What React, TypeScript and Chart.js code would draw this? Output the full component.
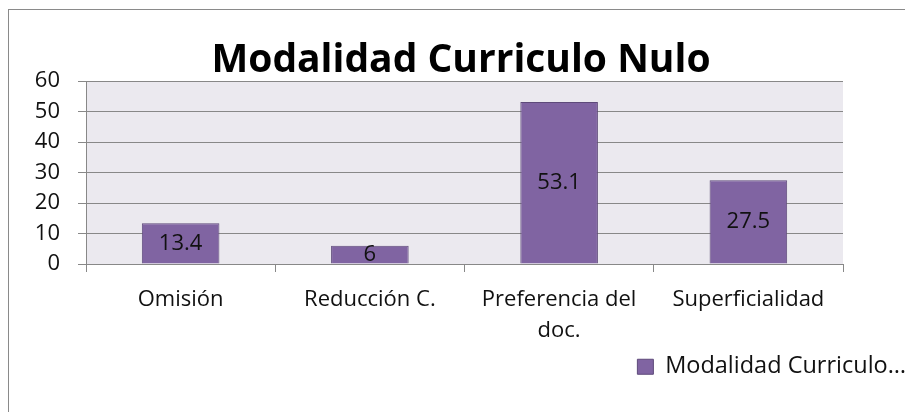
import React, { useEffect, useRef } from "react";
import { Chart, registerables } from "chart.js";

Chart.register(...registerables);

const title = "Modalidad Curriculo Nulo";
const categories: (string | string[])[] = ["Omisión", "Reducción C.", ["Preferencia del", "doc."], "Superficialidad"];
const values = [13.4, 6, 53.1, 27.5];
const seriesLabel = "Modalidad Curriculo…";
const yMin = 0;
const yMax = 60;
const yStep = 10;

const FONT = "'Open Sans', Lato, sans-serif";
const FS = 22;

const bgPlugin = {
  id: "plotBg",
  beforeDraw(chart: any) {
    const { ctx, chartArea } = chart;
    ctx.save();
    ctx.fillStyle = "#EBE9EF";
    ctx.fillRect(chartArea.left, chartArea.top, chartArea.right - chartArea.left, chartArea.bottom - chartArea.top);
    ctx.restore();
  },
};

const labelPlugin = {
  id: "barLabels",
  afterDatasetsDraw(chart: any) {
    const { ctx } = chart;
    const meta = chart.getDatasetMeta(0);
    ctx.save();
    ctx.font = `${FS}px ${FONT}`;
    ctx.fillStyle = "#111";
    ctx.textAlign = "center";
    ctx.textBaseline = "middle";
    meta.data.forEach((bar: any, i: number) => {
      const y = (bar.y + bar.base) / 2;
      ctx.fillText(String(values[i]), bar.x, y);
    });
    ctx.restore();
  },
};

export default function App() {
  const ref = useRef<HTMLCanvasElement>(null);
  useEffect(() => {
    if (!ref.current) return;
    const chart = new Chart(ref.current, {
      type: "bar",
      data: {
        labels: categories,
        datasets: [
          {
            label: seriesLabel,
            data: values,
            backgroundColor: "#8064A2",
            borderColor: "#5E4A7A",
            borderWidth: 1,
            categoryPercentage: 1,
            barPercentage: 0.41,
          },
        ],
      },
      options: {
        animation: false,
        responsive: false,
        maintainAspectRatio: false,
        layout: { padding: { left: 0, right: 0, top: 0, bottom: 24.5 } },
        plugins: {
          title: {
            display: true,
            text: title,
            color: "#000",
            font: { family: FONT, size: 39, weight: "bold", lineHeight: 1 },
            padding: { top: 31, bottom: 1 },
          },
          legend: {
            display: true,
            position: "bottom",
            align: "end",
            labels: {
              color: "#111",
              font: { family: FONT, size: 23.5 },
              boxWidth: 16,
              boxHeight: 15,
              padding: 7,
            },
          },
          tooltip: { enabled: false },
        },
        scales: {
          x: {
            grid: {
              display: true,
              drawOnChartArea: false,
              drawTicks: true,
              tickLength: 8,
              color: "#888",
              offset: true,
            },
            border: { display: true, color: "#888" },
            ticks: {
              color: "#111",
              font: { family: FONT, size: FS, lineHeight: 31 / FS },
              padding: 12.5,
              maxRotation: 0,
              autoSkip: false,
            },
            afterFit: (s: any) => {
              s.height = 84;
            },
          },
          y: {
            min: yMin,
            max: yMax,
            grid: { color: "#888", tickLength: 8, drawTicks: true },
            border: { display: true, color: "#888" },
            ticks: {
              stepSize: yStep,
              color: "#111",
              font: { family: FONT, size: FS },
              padding: 18,
            },
            afterFit: (s: any) => {
              s.width = 77;
            },
          },
          yR: {
            position: "right",
            display: true,
            grid: { display: false },
            border: { display: false },
            ticks: { display: false },
            afterFit: (s: any) => {
              s.width = 70;
            },
          },
        },
      },
      plugins: [bgPlugin, labelPlugin],
    } as any);
    return () => chart.destroy();
  }, []);
  return (
    <div
      style={{
        marginTop: 1,
        width: 904,
        height: 403,
        borderTop: "1px solid #8A8A8A",
        borderLeft: "1px solid #8A8A8A",
        background: "#fff",
      }}
    >
      <canvas ref={ref} width={904} height={403} style={{ display: "block" }} />
    </div>
  );
}
